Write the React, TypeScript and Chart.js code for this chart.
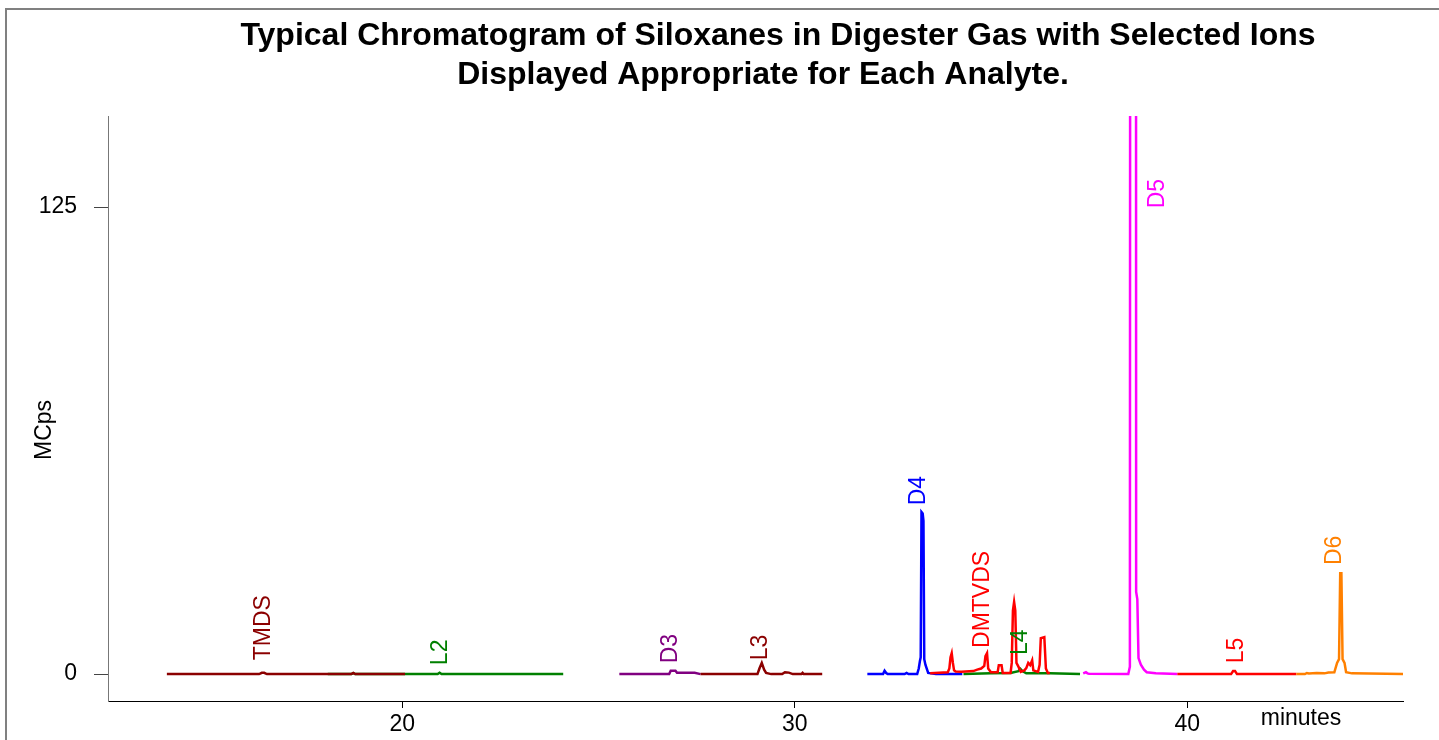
import React, { useEffect, useRef } from "react";
import { Chart, registerables } from "chart.js";

Chart.register(...registerables);

// ---------- Data (minutes, MCps) ----------
const tmdsX = [14.0, 16.35, 16.42, 16.48, 16.55, 18.7, 18.75, 18.8, 20.07];
const tmdsY = [0, 0, 0.35, 0.35, 0, 0, 0.3, 0, 0];

const l2X = [18.1, 18.7, 18.75, 18.8, 20.9, 20.95, 21.0, 24.1];
const l2Y = [0, 0, 0.25, 0, 0, 0.35, 0, 0];

const d3X = [25.53, 26.8, 26.84, 26.96, 27.0, 27.45, 27.6];
const d3Y = [0, 0, 0.9, 0.9, 0.35, 0.35, 0];

const l3X = [27.6, 29.05, 29.1, 29.16, 29.22, 29.27, 29.4, 29.68, 29.75, 29.85, 29.95, 30.17, 30.2, 30.23, 30.7];
const l3Y = [0, 0, 1.5, 3.0, 1.2, 0.3, 0, 0, 0.5, 0.4, 0, 0, 0.35, 0, 0];

const d4X = [31.85, 32.25, 32.29, 32.33, 32.37, 32.8, 32.85, 32.9, 33.12, 33.16, 33.19, 33.21, 33.23, 33.26, 33.28, 33.3, 33.33, 33.4, 33.6, 34.27];
const d4Y = [0, 0, 0.9, 0.3, 0, 0, 0.3, 0, 0, 1.5, 3.5, 4.5, 43.4, 43.0, 41, 4, 2.5, 0.3, 0, 0];

const dmtvdsX = [33.45, 33.9, 33.94, 33.97, 34.0, 34.03, 34.06, 34.1, 34.25, 34.55, 34.65, 34.75, 34.83, 34.86, 34.9, 34.93, 35.0, 35.17, 35.2, 35.27, 35.3, 35.5, 35.53, 35.56, 35.59, 35.62, 35.65, 35.7, 35.76, 35.85, 35.9, 35.95, 36.0, 36.05, 36.08, 36.2, 36.24, 36.27, 36.36, 36.4, 36.45, 36.5];
const dmtvdsY = [0.2, 0.5, 1.5, 4.5, 5.6, 3.0, 1.0, 0.7, 0.6, 0.8, 1.2, 1.5, 2.2, 4.8, 5.6, 1.5, 0.5, 0.5, 2.4, 2.4, 0.3, 0.3, 3.0, 17, 19.3, 17, 3.0, 2.0, 0.6, 1.0, 1.6, 3.0, 2.4, 3.7, 1.0, 0.6, 2.5, 9.6, 9.9, 1.5, 0.3, 0.3];

const l4X = [34.3, 35.0, 35.5, 35.7, 35.75, 35.8, 35.9, 36.5, 37.27];
const l4Y = [0, 0.2, 0.3, 0.8, 1.4, 0.8, 0.2, 0.2, 0];

const d5X = [37.35, 37.42, 37.46, 37.5, 38.5, 38.54, 38.56, 38.69, 38.7, 38.73, 38.76, 38.82, 38.9, 38.97, 39.2, 39.75];
const d5Y = [0.2, 0.5, 0.2, 0.1, 0, 2, 500, 500, 22, 20, 4.3, 2.5, 1.2, 0.5, 0.2, 0];

const l5X = [39.75, 41.12, 41.17, 41.22, 41.27, 42.78];
const l5Y = [0, 0, 0.8, 0.8, 0, 0];

const d6X = [42.78, 43.0, 43.05, 43.1, 43.3, 43.5, 43.6, 43.75, 43.82, 43.87, 43.9, 43.93, 43.96, 44.01, 44.05, 44.2, 45.5];
const d6Y = [0, 0, 0.3, 0.15, 0.3, 0.2, 0.4, 0.5, 3, 4, 27, 27, 4, 3, 0.5, 0.2, 0];

const seriesNames = ["L2", "TMDS", "D3", "L3", "D4", "L4", "DMTVDS", "D5", "L5", "D6"];
const seriesXs = [l2X, tmdsX, d3X, l3X, d4X, l4X, dmtvdsX, d5X, l5X, d6X];
const seriesYs = [l2Y, tmdsY, d3Y, l3Y, d4Y, l4Y, dmtvdsY, d5Y, l5Y, d6Y];
const seriesColors = ["#008000", "#8B0000", "#800080", "#8B0000", "#0000FF", "#008000", "#FF0000", "#FF00FF", "#FF0000", "#FF8000"];

// Peak labels
const peakNames = ["TMDS", "L2", "D3", "L3", "D4", "DMTVDS", "L4", "D5", "L5", "D6"];
const peakX = [16.46, 20.97, 26.83, 29.12, 33.15, 34.8, 35.75, 39.24, 41.25, 43.77];
const peakY = [3.7, 2.4, 2.9, 3.7, 45.2, 7.0, 5.1, 124.7, 2.9, 29.2];
const peakColors = ["#8B0000", "#008000", "#800080", "#8B0000", "#0000FF", "#FF0000", "#008000", "#FF00FF", "#FF0000", "#FF8000"];

const xTicks = [20, 30, 40];
const yTicks = [0, 125];

const titleLines = [
  "Typical Chromatogram of Siloxanes in Digester Gas with Selected Ions",
  "Displayed Appropriate for Each Analyte.",
];
const xAxisTitle = "minutes";
const yAxisTitle = "MCps";

const FONT = "'Liberation Sans', Arial, sans-serif";

const decorPlugin = {
  id: "decor",
  beforeDraw(chart: any) {
    const ctx = chart.ctx;
    ctx.save();
    ctx.fillStyle = "#ffffff";
    ctx.fillRect(0, 0, chart.width, chart.height);
    ctx.strokeStyle = "#808080";
    ctx.lineWidth = 2;
    ctx.strokeRect(6, 9, chart.width + 20, chart.height + 20);
    ctx.restore();
  },
  afterDraw(chart: any) {
    const ctx = chart.ctx;
    const xs = chart.scales.x;
    const ys = chart.scales.y;
    ctx.save();
    // title
    ctx.fillStyle = "#000";
    ctx.font = `bold 32px ${FONT}`;
    ctx.textAlign = "center";
    ctx.textBaseline = "alphabetic";
    ctx.fillText(titleLines[0], 778, 45);
    ctx.fillText(titleLines[1], 763, 84);
    // axis titles
    ctx.font = `23px ${FONT}`;
    ctx.textBaseline = "middle";
    ctx.fillText(xAxisTitle, 1301, 719);
    ctx.save();
    ctx.translate(45, 430);
    ctx.rotate(-Math.PI / 2);
    ctx.fillText(yAxisTitle, 0, 0);
    ctx.restore();
    // peak labels
    ctx.font = `23px ${FONT}`;
    ctx.textAlign = "left";
    ctx.textBaseline = "middle";
    peakNames.forEach((name, i) => {
      const px = xs.getPixelForValue(peakX[i]);
      const py = ys.getPixelForValue(peakY[i]);
      ctx.save();
      ctx.translate(px, py);
      ctx.rotate(-Math.PI / 2);
      ctx.fillStyle = peakColors[i];
      ctx.fillText(name, 0, 0);
      ctx.restore();
    });
    ctx.restore();
  },
};

export default function App() {
  const ref = useRef<HTMLCanvasElement | null>(null);
  useEffect(() => {
    if (!ref.current) return;
    const datasets = seriesNames.map((name, i) => ({
      label: name,
      data: seriesXs[i].map((x, j) => ({ x, y: seriesYs[i][j] })),
      borderColor: seriesColors[i],
      backgroundColor: seriesColors[i],
      borderWidth: 2.5,
      pointRadius: 0,
      tension: 0,
      fill: false,
      order: seriesNames.length - i,
    }));
    const chart = new Chart(ref.current, {
      type: "line",
      data: { datasets },
      plugins: [decorPlugin],
      options: {
        animation: false,
        responsive: false,
        devicePixelRatio: 1,
        layout: { padding: { top: 116, right: 36, left: 0, bottom: 0 } },
        plugins: { legend: { display: false }, tooltip: { enabled: false }, title: { display: false } },
        scales: {
          x: {
            type: "linear",
            min: 12.5,
            max: 45.5,
            afterBuildTicks: (s: any) => {
              s.ticks = xTicks.map((v) => ({ value: v }));
            },
            afterFit: (s: any) => {
              s.height = 39;
            },
            ticks: {
              color: "#000",
              font: { size: 23, family: FONT },
              padding: 3,
              maxRotation: 0,
              autoSkip: false,
            },
            grid: { drawOnChartArea: false, drawTicks: true, tickLength: 7, color: "#000", lineWidth: 1 },
            border: { display: true, color: "#000", width: 1 },
          },
          y: {
            type: "linear",
            min: -7.2,
            max: 149.4,
            afterBuildTicks: (s: any) => {
              s.ticks = yTicks.map((v) => ({ value: v }));
            },
            afterFit: (s: any) => {
              s.width = 108;
            },
            ticks: {
              color: "#000",
              font: { size: 23, family: FONT },
              padding: 17,
              autoSkip: false,
            },
            grid: { drawOnChartArea: false, drawTicks: true, tickLength: 14, color: "#444", lineWidth: 1 },
            border: { display: true, color: "#777", width: 1 },
          },
        },
      },
    } as any);
    return () => chart.destroy();
  }, []);
  return (
    <div style={{ position: "absolute", left: 0, top: 0, width: 1439, height: 740, background: "#fff" }}>
      <canvas ref={ref} width={1439} height={740} style={{ display: "block", width: 1439, height: 740 }} />
    </div>
  );
}
